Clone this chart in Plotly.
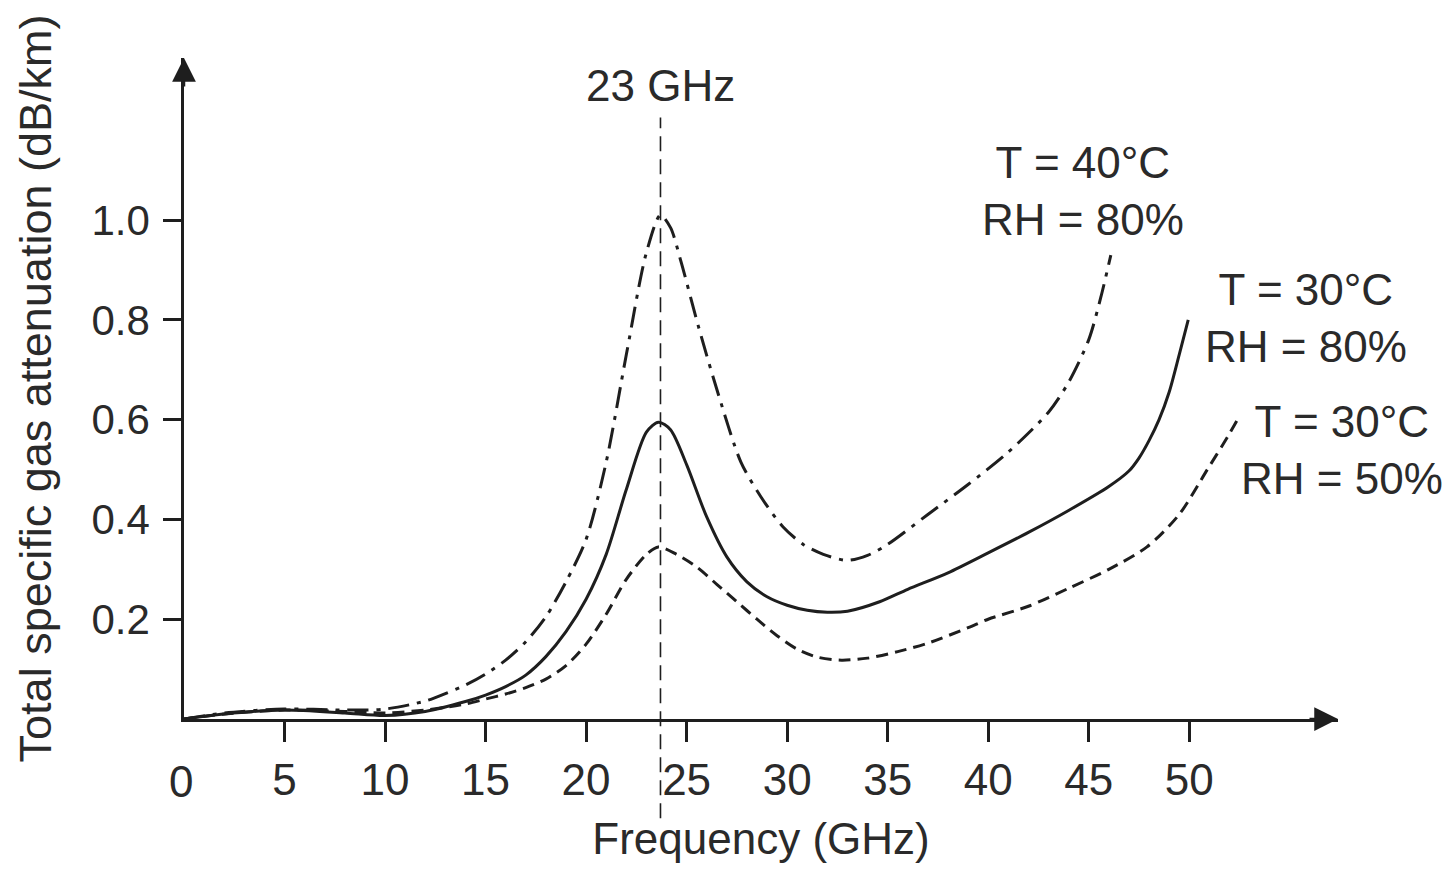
import plotly.graph_objects as go

# frequency (GHz) vs total specific gas attenuation (dB/km)
freq_t40_rh80 = [0, 2, 5, 8, 10, 12, 13, 14, 15, 16, 17, 18, 19, 20, 21, 22, 23, 23.7, 24.2, 24.7, 25.6,
                 26.6, 27.7, 28.7, 29.8, 30.8, 31.8, 33, 34, 35, 37, 39, 41, 43, 44, 45, 45.6, 46.1]
atten_t40_rh80 = [0, 0.012, 0.02, 0.018, 0.02, 0.036, 0.051, 0.068, 0.09, 0.118, 0.155, 0.205, 0.275,
                  0.36, 0.515, 0.73, 0.935, 1.01, 0.985, 0.92, 0.785, 0.648, 0.515, 0.445, 0.385,
                  0.35, 0.33, 0.318, 0.328, 0.35, 0.41, 0.47, 0.535, 0.615, 0.675, 0.76, 0.845, 0.93]

freq_t30_rh80 = [0, 2, 5, 8, 10, 12, 14, 15, 16, 17, 18, 19, 20, 21, 22, 23, 23.6, 24.2, 25, 26, 27, 28,
                 29, 30, 31, 32, 33, 34.6, 36, 38, 40, 42, 44, 46, 47, 47.5, 48, 48.5, 49, 49.5, 49.95]
atten_t30_rh80 = [0, 0.01, 0.018, 0.012, 0.007, 0.015, 0.035, 0.048, 0.065, 0.088, 0.125, 0.175, 0.24,
                  0.33, 0.46, 0.575, 0.595, 0.58, 0.51, 0.405, 0.325, 0.275, 0.245, 0.228, 0.218,
                  0.214, 0.216, 0.235, 0.26, 0.293, 0.333, 0.374, 0.418, 0.466, 0.497, 0.523, 0.558,
                  0.6, 0.655, 0.73, 0.8]

freq_t30_rh50 = [0, 2, 5, 8, 10, 12, 14, 15, 16, 17, 18, 19, 20, 21, 22, 23, 23.6, 24.5, 25.5, 26.5,
                 27.5, 28.5, 29.5, 30.5, 31.5, 32.7, 34, 35.5, 37, 39, 40, 42, 44, 46, 47.9, 49.5,
                 50.9, 51.9, 52.4]
atten_t30_rh50 = [0, 0.01, 0.018, 0.015, 0.012, 0.018, 0.03, 0.04, 0.05, 0.063, 0.08, 0.107, 0.15, 0.21,
                  0.28, 0.33, 0.345, 0.33, 0.305, 0.27, 0.235, 0.2, 0.167, 0.14, 0.124, 0.118, 0.122,
                  0.135, 0.152, 0.183, 0.2, 0.226, 0.262, 0.3, 0.345, 0.41, 0.5, 0.565, 0.6]

x_ticks = [5, 10, 15, 20, 25, 30, 35, 40, 45, 50]
y_ticks = [0.2, 0.4, 0.6, 0.8, 1.0]
y_tick_text = ["0.2", "0.4", "0.6", "0.8", "1.0"]

line_freq = 23.7
line_label = "23 GHz"
labels = ["T = 40°C<br>RH = 80%", "T = 30°C<br>RH = 80%", "T = 30°C<br>RH = 50%"]
label_pos = [(44.7, 1.058), (55.8, 0.804), (57.6, 0.539)]

x_max = 57.4
y_max = 1.325
ink = "#1e1e1e"
txt = "#2a2a2a"
font = "Liberation Sans"

fig = go.Figure()
curves = [
    (freq_t40_rh80, atten_t40_rh80, "21px,8px,4px,8px"),
    (freq_t30_rh80, atten_t30_rh80, "solid"),
    (freq_t30_rh50, atten_t30_rh50, "12px,7px"),
]
for xs, ys, dash in curves:
    fig.add_trace(go.Scatter(x=xs, y=ys, mode="lines",
                             line=dict(color=ink, width=3, dash=dash, shape="spline", smoothing=0.8),
                             showlegend=False, hoverinfo="skip"))

# vertical marker line at the water vapour peak, reaching below the axis
fig.add_shape(type="line", xref="paper", yref="paper",
              x0=line_freq / x_max, x1=line_freq / x_max, y0=-0.15, y1=0.91,
              line=dict(color=ink, width=1.6, dash="15px,8px"))
fig.add_annotation(x=line_freq, y=1.27, xref="x", yref="y", text=line_label, showarrow=False,
                   font=dict(family=font, size=44, color=txt), xanchor="center", yanchor="middle")

for text, (lx, ly) in zip(labels, label_pos):
    # annotations past the end of the axis would be hidden, so pin them at the edge and shift
    shift = max(0.0, lx - x_max) * 1154 / x_max
    fig.add_annotation(x=min(lx, x_max), y=ly, xref="x", yref="y", text=text, showarrow=False,
                       font=dict(family=font, size=44, color=txt), xanchor="center", yanchor="middle",
                       xshift=shift)

# "0" label at the origin without a tick mark
fig.add_annotation(x=0, y=0, xref="x", yref="paper", text="0", showarrow=False,
                   font=dict(family=font, size=44, color=txt), xanchor="center", yanchor="top",
                   xshift=-3, yshift=-36)

# axis arrowheads
fig.add_annotation(x=1, y=0, xref="paper", yref="paper", ax=-30, ay=0, text="", showarrow=True,
                   arrowhead=2, arrowsize=1.9, arrowwidth=2.5, arrowcolor=ink)
fig.add_annotation(x=0, y=1, xref="paper", yref="paper", ax=0, ay=30, text="", showarrow=True,
                   arrowhead=2, arrowsize=1.9, arrowwidth=2.5, arrowcolor=ink)

# the page body adds an 8px margin, so the figure is 16px smaller than the window
fig.update_layout(
    width=1437, height=855,
    margin=dict(l=176, r=107, t=50, b=144),
    paper_bgcolor="white", plot_bgcolor="white",
    font=dict(family=font, color=txt),
)
fig.update_xaxes(range=[0, x_max], tickvals=x_ticks, ticks="outside", ticklen=20, tickwidth=2.5,
                 tickcolor=ink, showline=True, linecolor=ink, linewidth=2.5, showgrid=False,
                 zeroline=False, tickfont=dict(family=font, size=44, color=txt), automargin=False,
                 title=dict(text="Frequency (GHz)", font=dict(family=font, size=44, color=txt), standoff=32))
fig.update_yaxes(range=[0, y_max], tickvals=y_ticks, ticktext=y_tick_text, ticks="outside", ticklen=18,
                 tickwidth=2.5, tickcolor=ink, showline=True, linecolor=ink, linewidth=2.5,
                 showgrid=False, zeroline=False, tickfont=dict(family=font, size=42, color=txt),
                 ticklabelstandoff=5, automargin=False,
                 title=dict(text="Total specific gas attenuation (dB/km)",
                            font=dict(family=font, size=45, color=txt), standoff=26))

fig.write_html("out.html")
